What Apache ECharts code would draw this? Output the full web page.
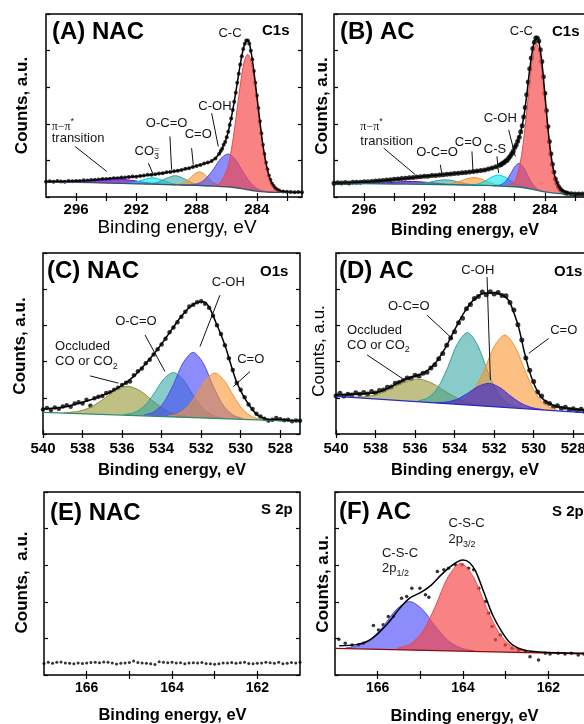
<!DOCTYPE html>
<html><head><meta charset="utf-8">
<script src="https://cdn.jsdelivr.net/npm/echarts@6/dist/echarts.min.js"></script>
<style>html,body{margin:0;padding:0;background:#fff}#c{width:584px;height:724px}</style>
</head><body><div id="c"></div>
<script>
// ---------- axis tick labels ----------
const labC1s = [284, 288, 292, 296];
const tickC1s = [282, 284, 286, 288, 290, 292, 294, 296];
const labO1s = [528, 530, 532, 534, 536, 538, 540];
const tickO1s = [528, 530, 532, 534, 536, 538, 540];
const labS2p = [162, 164, 166];
const tickS2p = [162, 163, 164, 165, 166];

// ---------- (A) NAC C1s ----------
const dotsA = [[298,8.3],[297.75,8.6],[297.5,8.4],[297.25,8.7],[297,8.5],[296.75,8.4],[296.5,8.8],[296.25,8.6],[296,8.7],[295.75,8.8],[295.5,9.1],[295.25,9.0],[295,9.3],[294.75,9.4],[294.5,9.5],[294.25,9.8],[294,9.9],[293.75,10.0],[293.5,10.3],[293.25,10.2],[293,10.6],[292.75,10.7],[292.5,10.9],[292.25,11.2],[292,11.1],[291.75,11.5],[291.5,11.7],[291.25,12.1],[291,12.2],[290.75,12.4],[290.5,12.9],[290.25,13.0],[290,13.5],[289.75,13.7],[289.5,14.1],[289.25,14.4],[289,14.7],[288.75,15.4],[288.5,15.7],[288.25,16.4],[288,17.0],[287.75,17.5],[287.5,18.3],[287.25,18.8],[287,19.7],[286.75,21.0],
[286.5,23.6],[286.4,25.1],[286.3,26.4],[286.2,28.5],[286.1,30.1],[286.0,32.6],[285.9,35.7],[285.8,39.3],[285.7,42.9],[285.6,47.5],[285.5,52.1],[285.4,56.9],[285.3,62.4],[285.2,67.4],[285.1,72.4],[285.0,76.9],[284.9,80.9],[284.8,83.7],[284.7,85.5],[284.6,85.5],[284.5,83.7],[284.4,79.9],[284.3,75.1],[284.2,68.9],[284.1,62.5],[284.0,55.4],[283.9,48.7],[283.8,41.4],[283.7,34.8],[283.6,28.5],[283.5,23.5],[283.4,18.8],[283.3,15.1],[283.2,11.7],[283.1,9.4],[283.0,7.4],[282.9,6.2],[282.8,5.0],[282.7,4.3],[282.6,3.8],[282.5,3.4],
[282.25,3.0],[282,2.9],[281.75,2.7],[281.5,2.6],[281.25,2.7],[281,2.6]];
const fitA = [[298,8.5],[297,8.5],[296,8.7],[295,9.2],[294,9.9],[293,10.5],[292,11.2],[291,12.2],[290,13.4],[289,14.8],[288.5,15.8],[288,17.0],[287.5,18.2],[287,19.6],[286.5,23.5],[286.2,28.4],[286,32.5],[285.8,39.2],[285.6,47.4],[285.4,57.0],[285.2,67.5],[285,77.0],[284.8,83.8],[284.6,85.6],[284.4,80.0],[284.2,69.0],[284,55.5],[283.8,41.5],[283.6,28.6],[283.4,18.9],[283.2,11.8],[283,7.5],[282.8,5.0],[282.5,3.4],[282,2.8],[281.5,2.6],[281,2.6]];
const bgA = [[298,8.2],[296,8.0],[294,7.6],[292,7.2],[290,6.8],[288,6.3],[287,6.0],[286,5.6],[285.5,5.2],[285,4.6],[284.5,3.85],[284,3.2],[283.5,2.8],[283,2.6],[282.5,2.5],[281,2.5]];
// components: [eV, background, top]
const A_PI = [[297,8.1,8.13],[296,8.0,8.2],[295,7.8,8.65],[294,7.6,9.49],[293.2,7.45,9.75],[292.4,7.3,9.19],[291.4,7.1,7.95],[290.4,6.9,7.1],[289.4,6.65,6.68]];
const A_CO3 = [[293,7.4,7.43],[292.5,7.3,7.52],[292,7.2,8.15],[291.5,7.1,9.47],[290.9,6.98,10.48],[290.3,6.86,9.23],[289.8,6.76,7.71],[289.3,6.63,6.85],[288.8,6.5,6.53]];
const A_OCO = [[291.5,7.1,7.14],[291,7.0,7.31],[290.5,6.9,8.25],[290,6.8,10.2],[289.4,6.65,11.65],[288.8,6.5,9.9],[288.3,6.35,7.7],[287.8,6.25,6.56],[287.3,6.1,6.14]];
const A_CO = [[289.5,6.7,6.8],[289,6.55,7.25],[288.5,6.4,9.8],[288.2,6.35,12.15],[287.8,6.25,13.75],[287.4,6.1,11.9],[287,6.0,8.6],[286.5,5.8,6.3],[286,5.6,5.6]];
const A_COH = [[289,6.55,6.55],[288.5,6.4,6.6],[288,6.3,7.1],[287.5,6.15,9.2],[287,6.0,13.8],[286.5,5.8,19.8],[286.25,5.7,22.1],[285.9,5.5,23.5],[285.5,5.2,21.3],[285,4.6,14.9],[284.5,3.85,8.5],[284,3.2,4.7],[283.5,2.8,3.1],[283,2.6,2.6]];
const A_CC = [[287,6.0,6.15],[286.5,5.8,7.3],[286,5.6,14.5],[285.75,5.4,23.1],[285.5,5.2,36.0],[285.25,4.9,51.7],[285,4.6,66.8],[284.8,4.3,75.2],[284.6,4.0,78.0],[284.4,3.7,74.6],[284.2,3.4,65.6],[284,3.2,53.3],[283.75,3.0,36.8],[283.5,2.8,22.8],[283.25,2.7,13.0],[283,2.6,7.2],[282.75,2.55,4.35],[282.5,2.5,3.1],[282,2.5,2.5]];

// ---------- (B) AC C1s ----------
const dotsB = [[298,7.5],[297.75,7.8],[297.5,7.6],[297.25,7.9],[297,7.7],[296.75,8.0],[296.5,8.1],[296.25,8.0],[296,8.3],[295.75,8.4],[295.5,8.5],[295.25,8.7],[295,8.9],[294.75,9.0],[294.5,9.3],[294.25,9.4],[294,9.7],[293.75,9.8],[293.5,10.1],[293.25,10.2],[293,10.5],[292.75,10.6],[292.5,10.9],[292.25,11.1],[292,11.3],[291.75,11.4],[291.5,11.7],[291.25,11.8],[291,12.0],[290.75,12.2],[290.5,12.4],[290.25,12.6],[290,12.8],[289.75,13.0],[289.5,13.2],[289.25,13.4],[289,13.6],[288.75,13.9],[288.5,14.2],[288.25,14.5],[288,14.8],[287.75,15.3],[287.5,15.8],[287.25,16.5],
[287.0,17.4],[286.9,17.7],[286.8,18.5],[286.7,18.9],[286.6,19.7],[286.5,20.1],[286.4,21.3],[286.3,22.2],[286.2,23.6],[286.1,25.0],[286.0,27.1],[285.9,28.4],[285.8,30.5],[285.7,32.7],[285.6,35.7],[285.5,38.9],[285.4,43.7],[285.3,48.9],[285.2,55.9],[285.1,62.9],[285.0,70.1],[284.9,75.9],[284.8,81.1],[284.7,84.5],[284.6,86.9],[284.5,86.9],[284.4,85.3],[284.3,80.5],[284.2,74.1],[284.1,65.7],[284.0,56.7],[283.9,47.3],[283.8,38.5],[283.7,30.3],[283.6,23.7],[283.5,17.9],[283.4,13.6],[283.3,9.9],[283.2,7.7],[283.1,5.7],[283.0,4.5],[282.9,3.6],[282.8,2.9],[282.7,2.5],[282.6,2.2],[282.5,2.0],
[282.25,1.8],[282,1.7],[281.75,1.7],[281.5,1.6],[281.25,1.6],[281,1.6]];
const fitB = [[298,7.6],[297,7.8],[296,8.2],[295,8.8],[294,9.6],[293,10.4],[292,11.3],[291,12.0],[290,12.8],[289,13.6],[288,14.8],[287.5,15.8],[287,17.3],[286.5,20.2],[286.2,23.5],[286,27.0],[285.8,30.4],[285.6,35.6],[285.4,43.6],[285.2,55.8],[285,70.0],[284.8,81.0],[284.6,86.8],[284.5,87.0],[284.4,85.2],[284.2,74.0],[284,56.6],[283.8,38.4],[283.6,23.6],[283.4,13.5],[283.2,7.6],[283,4.5],[282.8,2.9],[282.5,2.0],[282,1.7],[281,1.6]];
const bgB = [[298,7.5],[296,7.3],[294,7.1],[292,6.9],[290,6.7],[288,6.3],[287,6.0],[286,5.6],[285.5,5.2],[285,4.5],[284.5,3.6],[284,2.8],[283.5,2.2],[283,1.8],[282,1.6],[281,1.6]];
const B_PI = [[296.55,7.36,7.38],[295.8,7.28,7.37],[295.05,7.2,7.52],[294.3,7.13,7.88],[293.55,7.06,8.32],[292.8,6.98,8.48],[292.05,6.91,8.17],[291.3,6.83,7.58],[290.55,6.76,7.08],[289.8,6.66,6.75],[289.05,6.51,6.53]];
const B_OCO = [[293.1,7.01,7.04],[292.6,6.96,7.12],[292.1,6.91,7.46],[291.6,6.86,8.16],[291.1,6.81,9.0],[290.6,6.76,9.36],[290.1,6.71,8.9],[289.6,6.62,7.92],[289.1,6.52,7.07],[288.6,6.42,6.58],[288.1,6.32,6.35]];
const B_CO = [[290.95,6.8,6.85],[290.5,6.75,7.0],[290.05,6.7,7.58],[289.6,6.6,8.7],[289.15,6.5,10.03],[288.7,6.4,10.6],[288.25,6.35,9.88],[287.8,6.25,8.35],[287.35,6.1,6.98],[286.9,5.95,6.21],[286.45,5.8,5.85]];
const B_CS = [[289.05,6.5,6.58],[288.65,6.4,6.78],[288.25,6.35,7.61],[287.85,6.25,9.25],[287.45,6.15,11.2],[287.05,6.0,12.0],[286.65,5.85,10.9],[286.25,5.7,8.7],[285.85,5.5,6.76],[285.45,5.15,5.53],[285.05,4.6,4.68]];
const B_COH = [[287.5,6.15,6.15],[287.2,6.05,6.2],[286.9,5.95,6.76],[286.6,5.85,8.58],[286.3,5.7,12.2],[286.0,5.6,16.5],[285.7,5.4,18.4],[285.4,5.05,15.95],[285.1,4.65,11.15],[284.8,4.1,6.83],[284.5,3.6,4.41],[284.2,3.1,3.27],[283.9,2.7,2.7]];
const B_CC = [[286.55,5.8,6.0],[286.05,5.6,8.2],[285.8,5.45,12.85],[285.55,5.25,22.65],[285.35,5.0,35.2],[285.15,4.7,50.9],[284.95,4.35,67.05],[284.75,4.0,79.3],[284.55,3.7,83.7],[284.35,3.35,78.65],[284.15,3.05,65.75],[283.95,2.75,48.95],[283.75,2.5,32.7],[283.55,2.25,19.65],[283.3,2.0,9.4],[283.05,1.8,4.4],[282.55,1.65,1.85]];

// ---------- (C) NAC O1s ----------
const dotsC = [[540.0,13.5],[539.8,14.4],[539.6,13.2],[539.4,14.6],[539.2,14.0],[539.0,15.2],[538.8,15.9],[538.6,15.1],[538.4,16.8],[538.2,17.6],[538.0,16.9],[537.8,18.9],[537.6,15.6],[537.4,19.8],[537.2,20.6],[537.0,21.0],[536.8,22.6],[536.6,23.0],[536.4,24.4],[536.2,25.6],[536.0,27.1],[535.8,28.3],[535.6,29.0],[535.4,32.4],[535.2,34.6],[535.0,36.2],[534.8,39.1],[534.6,41.0],[534.4,43.9],[534.2,46.8],[534.0,49.5],[533.8,52.6],[533.6,56.2],[533.4,58.9],[533.2,61.7],[533.0,64.8],[532.8,67.6],[532.6,70.5],[532.4,71.4],[532.2,72.8],[532.0,73.3],[531.8,72.0],[531.6,69.8],[531.4,65.4],[531.2,60.1],[531.0,55.3],[530.8,49.0],[530.6,41.8],[530.4,35.4],[530.2,28.2],[530.0,24.4],[529.8,20.3],[529.6,16.3],[529.4,13.8],[529.2,11.2],[529.0,9.6],[528.8,8.4],[528.6,7.5],[528.4,7.9],[528.2,8.8],[528.0,8.2],[527.8,7.6],[527.6,7.9],[527.4,7.1],[527.2,7.5],[527.0,7.3]];
const fitC = [[540,13.8],[539.5,14.2],[539,14.8],[538.5,16.0],[538,17.5],[537.5,19.2],[537,21.3],[536.5,23.6],[536,26.8],[535.5,31.0],[535,36.5],[534.5,42.8],[534,49.8],[533.5,57.5],[533,65.0],[532.5,70.8],[532,73.0],[531.75,72.4],[531.5,68.0],[531.25,61.5],[531,55.0],[530.75,47.5],[530.5,38.5],[530.25,30.0],[530,23.8],[529.75,19.0],[529.5,14.8],[529.25,11.5],[529,9.3],[528.5,7.9],[528,8.0],[527.5,7.4],[527,7.2]];
const bgC = [[540,12.0],[527,7.0]];
const C_OCC = [[538.95,11.6,11.81],[538.3,11.35,12.35],[537.65,11.1,14.46],[537.0,10.85,18.85],[536.35,10.6,24.06],[535.7,10.35,26.35],[535.05,10.1,23.56],[534.4,9.85,17.85],[533.75,9.6,12.96],[533.1,9.35,10.35],[532.45,9.1,9.31]];
const C_OCO = [[535.9,10.43,10.75],[535.4,10.23,11.76],[534.9,10.04,15.19],[534.4,9.85,22.1],[533.9,9.66,30.26],[533.4,9.46,33.96],[532.9,9.27,29.87],[532.4,9.08,21.33],[531.9,8.89,14.04],[531.4,8.69,10.22],[530.9,8.5,8.82]];
const C_COH = [[534.9,10.04,10.51],[534.4,9.85,12.1],[533.9,9.66,17.22],[533.4,9.46,27.46],[532.9,9.27,39.55],[532.4,9.08,45.08],[531.9,8.89,39.17],[531.4,8.69,26.69],[530.9,8.5,16.06],[530.4,8.31,10.56],[529.9,8.12,8.59]];
const C_CO = [[533.68,9.57,9.9],[533.2,9.39,10.95],[532.73,9.21,14.46],[532.25,9.02,21.52],[531.78,8.84,29.84],[531.3,8.66,33.66],[530.83,8.47,29.47],[530.35,8.29,20.79],[529.88,8.11,13.36],[529.4,7.92,9.48],[528.93,7.74,8.07]];

// ---------- (D) AC O1s ----------
const dotsD = [[540.0,21.2],[539.8,22.5],[539.6,21.0],[539.4,22.0],[539.2,21.6],[539.0,22.8],[538.8,21.9],[538.6,22.9],[538.4,22.1],[538.2,23.5],[538.0,22.6],[537.8,24.0],[537.6,24.3],[537.4,25.8],[537.2,26.0],[537.0,28.0],[536.8,28.5],[536.6,29.6],[536.4,31.0],[536.2,30.8],[536.0,32.5],[535.8,32.0],[535.6,33.6],[535.4,34.1],[535.2,36.5],[535.0,38.2],[534.8,41.6],[534.6,44.5],[534.4,49.0],[534.2,53.0],[534.0,56.5],[533.8,61.4],[533.6,64.0],[533.4,69.2],[533.2,71.5],[533.0,74.8],[532.8,76.0],[532.6,78.5],[532.4,77.0],[532.2,78.6],[532.0,77.4],[531.8,78.2],[531.6,76.5],[531.4,76.4],[531.2,72.6],[531.0,68.5],[530.8,60.4],[530.6,52.0],[530.4,42.0],[530.2,35.2],[530.0,29.0],[529.8,23.2],[529.6,21.0],[529.4,17.6],[529.2,16.8],[529.0,15.0],[528.8,15.6],[528.6,14.2],[528.4,14.8],[528.2,13.6],[528.0,14.0],[527.8,13.1],[527.6,13.7],[527.4,12.4],[527.2,13.5],[527.0,12.9]];
const fitD = [[540,21.5],[539.5,21.8],[539,22.1],[538.5,22.4],[538,22.8],[537.5,24.5],[537,27.5],[536.5,30.3],[536,32.0],[535.5,34.0],[535,38.8],[534.5,47.0],[534,57.5],[533.5,67.5],[533,74.5],[532.5,77.8],[532,78.0],[531.5,76.2],[531.25,73.5],[531,67.0],[530.75,58.5],[530.5,46.5],[530.25,36.0],[530,28.0],[529.75,22.5],[529.5,19.0],[529,15.8],[528.5,14.5],[528,13.8],[527.5,13.3],[527,13.0]];
const bgD = [[540,20.8],[527,11.5]];
const D_OCC = [[539.3,20.29,20.45],[538.6,19.79,20.57],[537.9,19.29,21.92],[537.2,18.79,25.04],[536.5,18.29,28.79],[535.8,17.79,30.29],[535.1,17.29,27.79],[534.4,16.79,23.04],[533.7,16.29,18.92],[533.0,15.79,16.57],[532.3,15.29,15.45]];
const D_OCO = [[535.85,17.83,18.35],[535.35,17.47,19.97],[534.85,17.11,25.51],[534.35,16.76,36.76],[533.85,16.4,50.04],[533.35,16.04,56.04],[532.85,15.68,49.32],[532.35,15.33,35.33],[531.85,14.97,23.37],[531.35,14.61,17.11],[530.85,14.25,14.77]];
const D_CO = [[534.08,16.56,17.08],[533.55,16.18,18.68],[533.03,15.81,24.21],[532.5,15.43,35.43],[531.98,15.06,48.7],[531.45,14.68,54.68],[530.93,14.31,47.95],[530.4,13.93,33.93],[529.88,13.56,21.96],[529.35,13.18,15.68],[528.83,12.81,13.33]];
const D_COH = [[535.0,17.22,17.39],[534.45,16.83,17.62],[533.9,16.43,19.1],[533.35,16.04,22.39],[532.8,15.65,26.33],[532.25,15.26,27.96],[531.7,14.86,25.54],[531.15,14.47,20.82],[530.6,14.07,16.74],[530.05,13.68,14.47],[529.5,13.29,13.46]];

// ---------- (E) NAC S2p ----------
const dotsE = [[167.0,6.3],[166.9,6.9],[166.8,6.4],[166.7,7.0],[166.6,7.1],[166.5,6.6],[166.4,6.4],[166.3,6.2],[166.2,6.5],[166.1,6.3],[166.0,6.6],[165.9,6.8],[165.8,6.9],[165.7,6.7],[165.6,7.1],[165.5,6.9],[165.4,6.6],[165.3,6.0],[165.2,6.4],[165.1,6.6],[165.0,6.8],[164.9,7.6],[164.8,6.8],[164.7,6.6],[164.6,6.4],[164.5,6.2],[164.4,5.8],[164.3,7.3],[164.2,6.9],[164.1,6.7],[164.0,6.9],[163.9,6.5],[163.8,6.7],[163.7,6.2],[163.6,6.5],[163.5,6.7],[163.4,6.5],[163.3,6.8],[163.2,6.3],[163.1,6.1],[163.0,5.9],[162.9,6.2],[162.8,6.6],[162.7,6.5],[162.6,6.8],[162.5,6.4],[162.4,6.7],[162.3,6.9],[162.2,6.3],[162.1,6.1],[162.0,6.4],[161.9,6.6],[161.8,6.9],[161.7,6.7],[161.6,6.4],[161.5,6.9],[161.4,6.2],[161.3,6.4],[161.2,6.8],[161.1,6.5],[161.0,6.9]];

// ---------- (F) AC S2p ----------
const dotsF = [[166.91,19.5],[166.76,17.3],[166.6,16.4],[166.45,16.4],[166.33,17.3],[166.1,27.0],[165.98,24.6],[165.87,27.4],[165.75,31.9],[165.63,31.9],[165.44,42.0],[165.32,42.9],[165.2,47.4],[165.01,47.4],[164.88,43.8],[164.8,42.5],[164.6,56.6],[164.45,57.5],[164.34,58.4],[164.18,60.2],[164.02,60.2],[163.87,58.4],[163.75,57.5],[163.63,47.4],[163.47,40.1],[163.4,33.8],[163.32,26.5],[163.24,19.2],[163.13,21.9],[163.01,16.4],[162.85,14.6],[162.7,13.7],[162.54,12.8],[162.43,10.0],[162.23,8.2],[162.07,11.9],[161.96,11.5],[161.77,11.9],[161.61,11.5],[161.46,11.9],[161.3,10.9],[161.17,11.5]];
const fitF = [[166.9,16.0],[166.5,16.6],[166.25,18.3],[166.0,22.5],[165.75,28.5],[165.5,36.0],[165.25,42.0],[165.0,45.0],[164.75,49.0],[164.5,55.0],[164.25,60.0],[164.1,62.2],[164.0,62.8],[163.85,61.5],[163.7,56.5],[163.5,44.5],[163.3,32.5],[163.1,24.0],[162.9,17.6],[162.7,14.6],[162.5,13.3],[162.2,12.6],[162.0,12.3],[161.5,12.0],[161.0,11.8]];
const bgF = [[167,14.6],[161,11.5]];
const F_12 = [[166.75,14.47,14.81],[166.45,14.32,15.97],[166.15,14.16,19.7],[165.85,14.01,27.21],[165.55,13.85,36.05],[165.25,13.7,40.1],[164.95,13.54,35.74],[164.65,13.39,26.59],[164.35,13.23,18.77],[164.05,13.08,14.73],[163.75,12.92,13.26]];
const F_32 = [[165.55,13.85,14.47],[165.25,13.7,16.7],[164.95,13.54,23.62],[164.65,13.39,37.39],[164.35,13.23,53.6],[164.05,13.08,61.08],[163.75,12.92,53.29],[163.45,12.77,36.77],[163.15,12.61,22.69],[162.85,12.46,15.46],[162.55,12.3,12.92]];

// ---------- styling / layout ----------
const FONT = "'Liberation Sans', Arial, Helvetica, sans-serif";
const COL = {
  red:['rgba(246,72,72,0.68)','#e84848'], blue:['rgba(70,70,250,0.62)','#4a4af0'],
  orange:['rgba(250,150,50,0.6)','#f09030'], teal:['rgba(50,165,160,0.58)','#30a098'],
  cyan:['rgba(0,232,240,0.6)','#00c8d8'], purple:['rgba(110,20,200,0.75)','#6010b8'],
  olive:['rgba(150,150,50,0.6)','#8c8c30'], dblue:['rgba(60,40,200,0.68)','#3a30d0']
};
const panels = [
  {grid:{left:46,top:14,width:256,height:183}, min:281,max:298, lab:labC1s, tick:tickC1s, ls:15, mg:5,
   dots:dotsA, ds:4, fit:fitA, bg:bgA, bgc:'#3c5462',
   comps:[[A_PI,COL.purple],[A_CO3,COL.cyan],[A_OCO,COL.teal],[A_CO,COL.orange],[A_COH,COL.blue],[A_CC,COL.red]]},
  {grid:{left:334,top:14,width:256,height:183}, min:281,max:298, lab:labC1s, tick:tickC1s, ls:15, mg:5,
   dots:dotsB, ds:5, fit:fitB, bg:bgB, bgc:'#20707a',
   comps:[[B_PI,COL.purple],[B_OCO,COL.teal],[B_CO,COL.orange],[B_CS,COL.cyan],[B_COH,COL.blue],[B_CC,COL.red]]},
  {grid:{left:43,top:253,width:257,height:181}, min:527,max:540, lab:labO1s, tick:tickO1s, ls:15, mg:7,
   dots:dotsC, ds:4.5, fit:fitC, bg:bgC, bgc:'#2e8a6a',
   comps:[[C_OCC,COL.olive],[C_OCO,COL.teal],[C_COH,COL.blue],[C_CO,COL.orange]]},
  {grid:{left:336,top:253,width:257,height:181}, min:527,max:540, lab:labO1s, tick:tickO1s, ls:15, mg:7,
   dots:dotsD, ds:5, fit:fitD, bg:bgD, bgc:'#2828c8',
   comps:[[D_OCC,COL.olive],[D_OCO,COL.teal],[D_CO,COL.orange],[D_COH,COL.dblue]]},
  {grid:{left:44,top:492,width:256,height:183}, min:161,max:167, lab:labS2p, tick:tickS2p, ls:14, mg:6,
   dots:dotsE, ds:3, fit:null, bg:null, comps:[]},
  {grid:{left:335,top:492,width:256,height:183}, min:161,max:167, lab:labS2p, tick:tickS2p, ls:14, mg:6,
   dots:dotsF, ds:3.5, fit:fitF, bg:bgF, bgc:'#8a0a0a',
   comps:[[F_12,COL.blue],[F_32,COL.red]]}
];

const chart = echarts.init(document.getElementById('c'), null, {renderer:'canvas', width:584, height:724});
const grid=[], xAxis=[], yAxis=[], series=[];
const tickLine = {color:'#000', width:1.2};
panels.forEach((p,g)=>{
  grid.push(Object.assign({show:true, borderColor:'#000', borderWidth:1.5, backgroundColor:'transparent',
    containLabel:false, outerBoundsMode:'none'}, p.grid));
  const xt = {show:true, inside:true, length:4, lineStyle:tickLine, customValues:p.tick};
  xAxis.push({type:'value', gridIndex:g, min:p.min, max:p.max, inverse:true, position:'bottom',
    axisLine:{show:false}, axisTick:xt, splitLine:{show:false},
    axisLabel:{customValues:p.lab, fontFamily:FONT, fontWeight:'bold', fontSize:p.ls, color:'#000', margin:p.mg}});
  xAxis.push({type:'value', gridIndex:g, min:p.min, max:p.max, inverse:true, position:'top',
    axisLine:{show:false}, axisTick:xt, splitLine:{show:false}, axisLabel:{show:false}});
  const yt = {show:true, inside:true, length:4, lineStyle:tickLine};
  yAxis.push({type:'value', gridIndex:g, min:0, max:100, interval:20, position:'left',
    axisLine:{show:false}, axisTick:yt, splitLine:{show:false}, axisLabel:{show:false}});
  yAxis.push({type:'value', gridIndex:g, min:0, max:100, interval:20, position:'right',
    axisLine:{show:false}, axisTick:yt, splitLine:{show:false}, axisLabel:{show:false}});
  const ax = {xAxisIndex:2*g, yAxisIndex:2*g};
  series.push(Object.assign({type:'scatter', data:p.dots, symbol:'circle', symbolSize:p.ds,
    itemStyle:{color:'#000'}, silent:true, z:1}, ax));
  p.comps.forEach(([data, col])=>{
    series.push(Object.assign({type:'custom', data:data, encode:{x:0, y:[1,2]}, silent:true, z:2,
      renderItem:(params, api)=>{
        if (params.dataIndex !== 0) return null;
        const top = data.map(d=>api.coord([d[0], d[2]]));
        const base = data.map(d=>api.coord([d[0], d[1]]));
        const poly = top.concat(base.slice(1,-1).reverse());
        return {type:'group', children:[
          {type:'polygon', shape:{points:poly, smooth:0.3}, style:{fill:col[0], stroke:null}},
          {type:'polyline', shape:{points:top, smooth:0.3}, style:{stroke:col[1], lineWidth:1, fill:null}}
        ]};
      }}, ax));
  });
  if (p.bg) series.push(Object.assign({type:'line', data:p.bg, symbol:'none', smooth:0.3,
    lineStyle:{color:p.bgc, width:1.3}, silent:true, z:3}, ax));
  if (p.fit) series.push(Object.assign({type:'line', data:p.fit, symbol:'none', smooth:0.35,
    lineStyle:{color:'#000', width:1.5}, silent:true, z:4}, ax));
});
chart.setOption({animation:false, grid, xAxis, yAxis, series});

// ---------- texts ----------
const RICH = {
  n:{fontSize:13, fontFamily:FONT, lineHeight:19, fill:'#151515'},
  s:{fontSize:9, fontFamily:FONT, lineHeight:10, verticalAlign:'bottom', fill:'#151515'},
  u:{fontSize:9, fontFamily:FONT, lineHeight:10, verticalAlign:'top', fill:'#151515'},
  p:{fontSize:12, fontFamily:"'Liberation Serif', 'DejaVu Serif', serif", lineHeight:19, fill:'#151515'}
};
const notes = [
  {g:0,t:'{n|C-C}',x:285.78,y:89.5},
  {g:0,t:'{n|C-OH}',x:286.78,y:49.5},
  {g:0,t:'{n|C=O}',x:287.89,y:34},
  {g:0,t:'{n|O-C=O}',x:289.99,y:40.4},
  {g:0,t:'{n|CO}{s|3}',x:291.31,y:24.9},
  {g:0,t:'{u|=}',x:291.31,y:24.9,dx:9.8,dy:-1},
  {g:0,t:'{p|π−π}{u|*}',x:297.62,y:38.5,al:'left'},
  {g:0,t:'{n|transition}',x:297.62,y:32.2,al:'left'},
  {g:1,t:'{n|C-C}',x:285.56,y:90.4},
  {g:1,t:'{n|C-OH}',x:286.96,y:43},
  {g:1,t:'{n|C-S}',x:287.31,y:26.2},
  {g:1,t:'{n|C=O}',x:289.08,y:29.8},
  {g:1,t:'{n|O-C=O}',x:291.16,y:24.4},
  {g:1,t:'{p|π−π}{u|*}',x:296.25,y:38.5,al:'left'},
  {g:1,t:'{n|transition}',x:296.25,y:30.4,al:'left'},
  {g:2,t:'{n|C-OH}',x:530.63,y:83.5},
  {g:2,t:'{n|O-C=O}',x:535.3,y:62},
  {g:2,t:'{n|Occluded}',x:539.39,y:48.6,al:'left'},
  {g:2,t:'{n|CO or CO}{s|2}',x:539.39,y:40,al:'left'},
  {g:2,t:'{n|C=O}',x:529.49,y:41.3},
  {g:3,t:'{n|C-OH}',x:532.83,y:90.5},
  {g:3,t:'{n|O-C=O}',x:536.32,y:70.3},
  {g:3,t:'{n|Occluded}',x:539.44,y:57.4,al:'left'},
  {g:3,t:'{n|CO or CO}{s|2}',x:539.44,y:49.2,al:'left'},
  {g:3,t:'{n|C=O}',x:528.48,y:57.4},
  {g:5,t:'{n|C-S-C}',x:164.34,y:83,al:'left'},
  {g:5,t:'{n|2p}{s|3/2}',x:164.34,y:74.3,al:'left'},
  {g:5,t:'{n|C-S-C}',x:165.9,y:66.2,al:'left'},
  {g:5,t:'{n|2p}{s|1/2}',x:165.9,y:58.4,al:'left'}
];
const leaders = [
  {g:0,a:[287.0,45.8],b:[286.56,27.6]},
  {g:0,a:[288.33,26.7],b:[288.22,17.6]},
  {g:0,a:[289.77,33.1],b:[289.66,14.9]},
  {g:0,a:[291.2,18.5],b:[290.92,13.1]},
  {g:0,a:[296.07,27.6],b:[293.97,14]},
  {g:1,a:[286.4,36.7],b:[285.96,22.2]},
  {g:1,a:[287.18,22.2],b:[287.07,13.1]},
  {g:1,a:[288.84,24.9],b:[288.77,14]},
  {g:1,a:[290.94,17.6],b:[290.83,12.2]},
  {g:1,a:[294.7,26.7],b:[292.6,12.2]},
  {g:2,a:[531.05,76.7],b:[532.06,48.3]},
  {g:2,a:[534.84,54.7],b:[533.83,34.5]},
  {g:2,a:[537.62,32.1],b:[536.19,28.1]},
  {g:2,a:[529.53,34.5],b:[530.37,26.2]},
  {g:3,a:[532.36,86.8],b:[532.19,29.9]},
  {g:3,a:[535.4,65.7],b:[534.13,52.8]},
  {g:3,a:[538.43,43.7],b:[536.66,30.8]},
  {g:3,a:[529.24,52.8],b:[530.25,44.6]}
];
const fixedTexts = [
  {t:'(A) NAC',x:52,y:32,fs:24,fw:'bold',al:'left'},
  {t:'(B) AC',x:340,y:32,fs:24,fw:'bold',al:'left'},
  {t:'(C) NAC',x:47,y:271.5,fs:24,fw:'bold',al:'left'},
  {t:'(D) AC',x:339,y:271.5,fs:24,fw:'bold',al:'left'},
  {t:'(E) NAC',x:50,y:513,fs:24,fw:'bold',al:'left'},
  {t:'(F) AC',x:339,y:512,fs:24,fw:'bold',al:'left'},
  {t:'C1s',x:262,y:31,fs:15,fw:'bold',al:'left'},
  {t:'C1s',x:552,y:32,fs:15,fw:'bold',al:'left'},
  {t:'O1s',x:260,y:271.7,fs:15,fw:'bold',al:'left'},
  {t:'O1s',x:554,y:271.7,fs:15,fw:'bold',al:'left'},
  {t:'S 2p',x:261,y:510,fs:15,fw:'bold',al:'left'},
  {t:'S 2p',x:552,y:511.7,fs:15,fw:'bold',al:'left'},
  {t:'Counts, a.u.',x:22,y:105.5,fs:17,fw:'bold',rot:true},
  {t:'Counts, a.u.',x:322,y:106,fs:17,fw:'bold',rot:true},
  {t:'Counts, a.u.',x:20,y:346,fs:17,fw:'bold',rot:true},
  {t:'Counts, a.u.',x:319,y:351,fs:17,fw:'normal',rot:true},
  {t:'Counts,  a.u.',x:22,y:582.5,fs:17,fw:'bold',rot:true},
  {t:'Counts, a.u.',x:323.5,y:584,fs:17,fw:'bold',rot:true},
  {t:'Binding energy, eV',x:177,y:228,fs:19,fw:'normal'},
  {t:'Binding energy, eV',x:465,y:230,fs:16.5,fw:'bold'},
  {t:'Binding energy, eV',x:172,y:470,fs:16.5,fw:'bold'},
  {t:'Binding energy, eV',x:465,y:470,fs:16.5,fw:'bold'},
  {t:'Binding energy, eV',x:172.5,y:715,fs:16.5,fw:'bold'},
  {t:'Binding energy, eV',x:464.5,y:716.5,fs:16.5,fw:'bold'}
];
const P = (g,v)=>chart.convertToPixel({xAxisIndex:2*g, yAxisIndex:2*g}, v);
const gr = [];
fixedTexts.forEach(f=>{
  gr.push({type:'text', x:f.x, y:f.y, rotation:f.rot?Math.PI/2:0, z:100, silent:true,
    style:{text:f.t, fontSize:f.fs, fontWeight:f.fw, fontFamily:FONT, fill:'#000',
      align:f.al||'center', verticalAlign:'middle'}});
});
notes.forEach(n=>{
  const q = P(n.g,[n.x,n.y]);
  gr.push({type:'text', x:q[0]+(n.dx||0), y:q[1]+(n.dy||0), z:100, silent:true,
    style:{text:n.t, rich:RICH, fontSize:13, fontFamily:FONT, fill:'#151515',
      align:n.al||'center', verticalAlign:'middle'}});
});
leaders.forEach(l=>{
  const a = P(l.g,l.a), b = P(l.g,l.b);
  gr.push({type:'line', z:100, silent:true, shape:{x1:a[0],y1:a[1],x2:b[0],y2:b[1]},
    style:{stroke:'#111', lineWidth:1}});
});
chart.setOption({graphic:{elements:gr}});
</script></body></html>
